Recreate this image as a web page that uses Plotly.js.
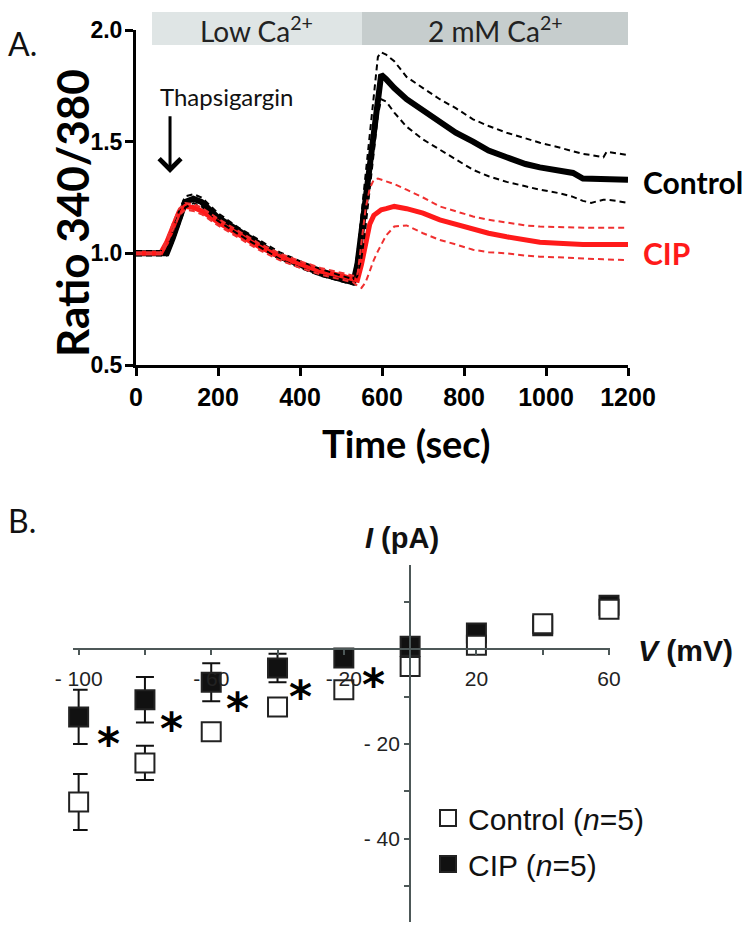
<!DOCTYPE html>
<html>
<head>
<meta charset="utf-8">
<script src="https://cdn.plot.ly/plotly-3.0.1.min.js"></script>
<style>
  html, body { margin: 0; padding: 0; background: #fff; }
  #plot { width: 754px; height: 925px; }
</style>
</head>
<body>
<div id="plot"></div>
<script>
// ---- panel A: Fura-2 ratio over time ----
const timeSec = [0, 60, 75, 90, 105, 120, 140, 160, 200, 250, 300, 350, 400, 450, 500, 530,
    540, 550, 560, 570, 580, 590, 598, 610, 630, 660, 700, 741, 780, 822, 860, 904,
    950, 985, 1030, 1066, 1090, 1110, 1140, 1148, 1170, 1200];

const controlMean = [1.00, 1.00, 1.00, 1.07, 1.16, 1.23, 1.245, 1.23, 1.16, 1.10, 1.045, 0.985, 0.95, 0.91, 0.885, 0.87,
    0.95, 1.10, 1.25, 1.41, 1.56, 1.72, 1.80, 1.78, 1.74, 1.69, 1.64, 1.59, 1.54, 1.50, 1.46, 1.43,
    1.40, 1.385, 1.37, 1.36, 1.335, 1.335, 1.335, 1.33, 1.335, 1.33];
const controlUpper = [1.01, 1.01, 1.01, 1.10, 1.19, 1.255, 1.265, 1.25, 1.18, 1.115, 1.06, 1.005, 0.965, 0.93, 0.90, 0.885,
    1.00, 1.18, 1.36, 1.54, 1.72, 1.88, 1.90, 1.89, 1.86, 1.79, 1.74, 1.69, 1.65, 1.60, 1.57, 1.54,
    1.515, 1.495, 1.475, 1.455, 1.445, 1.44, 1.43, 1.455, 1.45, 1.44];
const controlLower = [0.99, 0.99, 0.99, 1.05, 1.13, 1.205, 1.225, 1.21, 1.145, 1.085, 1.03, 0.975, 0.935, 0.90, 0.875, 0.86,
    0.90, 0.98, 1.12, 1.28, 1.45, 1.62, 1.69, 1.68, 1.63, 1.567, 1.51, 1.464, 1.42, 1.374, 1.345, 1.32,
    1.30, 1.285, 1.27, 1.253, 1.235, 1.226, 1.24, 1.24, 1.235, 1.226];

const cipMean = [1.00, 1.00, 1.05, 1.12, 1.185, 1.21, 1.205, 1.19, 1.14, 1.085, 1.03, 0.985, 0.95, 0.92, 0.90, 0.885,
    0.88, 0.95, 1.05, 1.13, 1.17, 1.185, 1.195, 1.20, 1.21, 1.20, 1.18, 1.15, 1.13, 1.105, 1.09, 1.074,
    1.06, 1.05, 1.045, 1.04, 1.04, 1.04, 1.04, 1.04, 1.04, 1.04];
const cipUpper = [1.005, 1.005, 1.06, 1.135, 1.20, 1.225, 1.22, 1.205, 1.155, 1.10, 1.045, 1.00, 0.965, 0.935, 0.915, 0.90,
    0.90, 1.05, 1.20, 1.29, 1.33, 1.335, 1.33, 1.32, 1.31, 1.285, 1.25, 1.21, 1.19, 1.165, 1.15, 1.137,
    1.125, 1.12, 1.117, 1.114, 1.114, 1.114, 1.114, 1.114, 1.114, 1.114];
const cipLower = [0.995, 0.995, 1.04, 1.105, 1.17, 1.195, 1.19, 1.175, 1.125, 1.07, 1.015, 0.97, 0.935, 0.905, 0.885, 0.87,
    0.855, 0.845, 0.87, 0.92, 0.97, 1.01, 1.04, 1.08, 1.12, 1.125, 1.09, 1.06, 1.04, 1.016, 1.005, 1.0,
    0.99, 0.985, 0.982, 0.98, 0.977, 0.975, 0.973, 0.972, 0.971, 0.97];

const xTicksA = [0, 200, 400, 600, 800, 1000, 1200];
const yTicksA = [0.5, 1.0, 1.5, 2.0];
const phaseEdges = [39, 551, 1205];
const phaseLabels = ['Low Ca<sup>2+</sup>', '2 mM Ca<sup>2+</sup>'];
const thapsigarginTime = 83;

// ---- panel B: I-V relation ----
const voltage = [-100, -80, -60, -40, -20, 0, 20, 40, 60];
const controlI = [-32.2, -24.0, -17.4, -12.2, -8.6, -3.7, 0.8, 5.3, 8.4];
const controlErr = [5.9, 3.6, 1.2, 1.0, 1.0, 1.0, 0.8, 0.8, 0.8];
const cipI = [-14.3, -10.7, -7.0, -4.0, -1.9, 0.6, 3.4, 4.9, 9.2];
const cipErr = [5.7, 4.8, 4.0, 3.0, 1.0, 1.0, 0.8, 0.8, 0.8];
const starV = [-91, -72, -52, -33, -11];
const starI = [-18.1, -14.9, -10.7, -8.0, -5.5];

const xTickValsB = [-100, -80, -60, -40, -20, 0, 20, 40, 60];
const xTickTextB = ['- 100', '', '- 60', '', '- 20', '', '20', '', '60'];
const yTickValsB = [10, 0, -10, -20, -30, -40, -50];
const yTickTextB = ['', '', '', '- 20', '', '- 40', ''];

const W = 754, H = 925;
const px = (x) => x / W;
const py = (y) => 1 - y / H;

function ratioLine(y, colour, width, dash) {
    return {
        x: timeSec,
        y,
        xaxis: 'x',
        yaxis: 'y',
        type: 'scatter',
        mode: 'lines',
        line: {color: colour, width, dash},
        showlegend: false,
        hoverinfo: 'skip',
    };
}

function ivTrace(y, err, name, fill, group, rank) {
    return {
        x: voltage,
        y,
        name,
        legendgroup: group,
        legendrank: rank,
        xaxis: 'x2',
        yaxis: 'y2',
        type: 'scatter',
        mode: 'markers',
        cliponaxis: false,
        marker: {
            symbol: 'square',
            size: 19,
            color: fill,
            line: {color: '#222', width: 2},
        },
        error_y: {type: 'data', array: err, visible: true, color: '#111', thickness: 2, width: 9},
        hoverinfo: 'skip',
    };
}

// CIP first so the open Control squares sit on top of it
const data = [
    ratioLine(controlMean, '#000', 6, 'solid'),
    ratioLine(cipMean, '#ff1a1a', 5, 'solid'),
    ratioLine(controlUpper, '#000', 2, '6px,4px'),
    ratioLine(controlLower, '#000', 2, '6px,4px'),
    ratioLine(cipUpper, '#f03030', 2, '6px,4px'),
    ratioLine(cipLower, '#f03030', 2, '6px,4px'),
    ivTrace(cipI, cipErr, 'CIP (<i>n</i>=5)', '#111', 'cip', 2),
    ivTrace(controlI, controlErr, 'Control (<i>n</i>=5)', '#fff', 'control', 1),
];

const xRangeB = [-101.7, 60.3];
const yRangeB = [-57.5, 17.7];
const xDomainB = [px(73), px(610)];
const yDomainB = [py(922), py(565)];
// place the crossing axes at V = 0 and I = 0
const xAxisPosB = yDomainB[0] + (0 - yRangeB[0]) / (yRangeB[1] - yRangeB[0]) * (yDomainB[1] - yDomainB[0]);
const yAxisPosB = xDomainB[0] + (0 - xRangeB[0]) / (xRangeB[1] - xRangeB[0]) * (xDomainB[1] - xDomainB[0]);

const bTick = {family: 'Liberation Sans', size: 21, color: '#222'};

const shapes = phaseLabels.map((_, i) => ({
    type: 'rect',
    xref: 'x',
    yref: 'paper',
    x0: phaseEdges[i],
    x1: phaseEdges[i + 1],
    y0: py(45),
    y1: py(12),
    fillcolor: i === 0 ? '#dfe5e5' : '#c6cdcd',
    line: {width: 0},
    layer: 'below',
}));

function label(text, x, y, font, extra = {}) {
    return Object.assign({
        text, xref: 'paper', yref: 'paper', x: px(x), y: py(y),
        xanchor: 'center', yanchor: 'middle', showarrow: false, font,
    }, extra);
}

const annotations = [
    ...phaseLabels.map((text, i) => ({
        text,
        xref: 'x',
        yref: 'paper',
        x: (phaseEdges[i] + phaseEdges[i + 1]) / 2,
        y: py(29),
        xanchor: 'center',
        yanchor: 'middle',
        showarrow: false,
        font: {family: 'Lato', size: 28, color: '#222'},
    })),
    {
        text: '',
        xref: 'x', yref: 'y', axref: 'x', ayref: 'y',
        x: thapsigarginTime, y: 1.36, ax: thapsigarginTime, ay: 1.62,
        showarrow: true, arrowhead: 4, arrowsize: 1.4, arrowwidth: 3, arrowcolor: '#000',
    },
    // significance marks
    ...starV.map((v, i) => ({
        text: '*', xref: 'x2', yref: 'y2', x: v, y: starI[i], yshift: -9,
        xanchor: 'center', yanchor: 'middle', showarrow: false,
        font: {family: 'DejaVu Sans', size: 44, weight: 'bold', color: '#000'},
    })),
    label('Thapsigargin', 158, 96, {family: 'Lato', size: 24, color: '#111'}, {xanchor: 'left'}),
    label('A.', 22, 44, {family: 'Lato', size: 32, color: '#111'}),
    label('B.', 22, 520, {family: 'Lato', size: 32, color: '#111'}),
    label('Ratio 340/380', 72, 213, {family: 'Lato', size: 44, weight: 'bold', color: '#000'}, {textangle: -90}),
    label('Time (sec)', 406, 443, {family: 'Lato', size: 38, weight: 'bold', color: '#000'}),
    label('Control', 641, 182, {family: 'Lato', size: 30, weight: 'bold', color: '#000'}, {xanchor: 'left'}),
    label('CIP', 641, 253, {family: 'Lato', size: 30, weight: 'bold', color: '#ff1a1a'}, {xanchor: 'left'}),
    label('<i>I</i> (pA)', 402, 538, {family: 'Liberation Sans', size: 29, weight: 'bold', color: '#111'}),
    label('<i>V</i> (mV)', 685, 650, {family: 'Liberation Sans', size: 30, weight: 'bold', color: '#111'}),
];

const layout = {
    width: W,
    height: H,
    margin: {l: 0, r: 0, t: 0, b: 0},
    paper_bgcolor: '#fff',
    plot_bgcolor: 'rgba(0,0,0,0)',
    xaxis: {
        domain: [px(136), px(628)],
        range: [0, 1200],
        tickmode: 'array',
        tickvals: xTicksA,
        ticks: 'outside', ticklen: 8, tickwidth: 3, tickcolor: '#000',
        showline: true, linewidth: 3, linecolor: '#000',
        showgrid: false, zeroline: false,
        tickfont: {family: 'Liberation Sans', size: 25, weight: 'bold', color: '#000'},
        anchor: 'y',
        fixedrange: true,
    },
    yaxis: {
        domain: [py(365), py(30)],
        range: [0.5, 2.0],
        tickmode: 'array',
        tickvals: yTicksA,
        tickformat: '.1f',
        ticks: 'outside', ticklen: 8, tickwidth: 3, tickcolor: '#000',
        showline: true, linewidth: 3, linecolor: '#000',
        showgrid: false, zeroline: false,
        tickfont: {family: 'Liberation Sans', size: 23, weight: 'bold', color: '#000'},
        ticklabelstandoff: -2,
        anchor: 'x',
        fixedrange: true,
    },
    xaxis2: {
        domain: xDomainB,
        range: xRangeB,
        anchor: 'free',
        position: xAxisPosB,
        tickmode: 'array',
        tickvals: xTickValsB,
        ticktext: xTickTextB,
        ticks: 'outside', ticklen: 5, tickwidth: 2, tickcolor: '#4d5858',
        showline: true, linewidth: 2, linecolor: '#4d5858',
        showgrid: false, zeroline: false,
        tickfont: bTick,
        ticklabelstandoff: 6,
        fixedrange: true,
    },
    yaxis2: {
        domain: yDomainB,
        range: yRangeB,
        anchor: 'free',
        position: yAxisPosB,
        tickmode: 'array',
        tickvals: yTickValsB,
        ticktext: yTickTextB,
        ticks: 'outside', ticklen: 5, tickwidth: 2, tickcolor: '#4d5858',
        showline: true, linewidth: 2, linecolor: '#4d5858',
        showgrid: false, zeroline: false,
        tickfont: bTick,
        fixedrange: true,
    },
    legend: {
        x: px(428),
        y: py(792),
        xanchor: 'left',
        yanchor: 'top',
        traceorder: 'grouped',
        tracegroupgap: 4,
        bgcolor: 'rgba(0,0,0,0)',
        font: {family: 'Liberation Sans', size: 30, color: '#111'},
        itemwidth: 30,
    },
    shapes,
    annotations,
};

Plotly.newPlot('plot', data, layout, {displayModeBar: false, staticPlot: true});
</script>
</body>
</html>
